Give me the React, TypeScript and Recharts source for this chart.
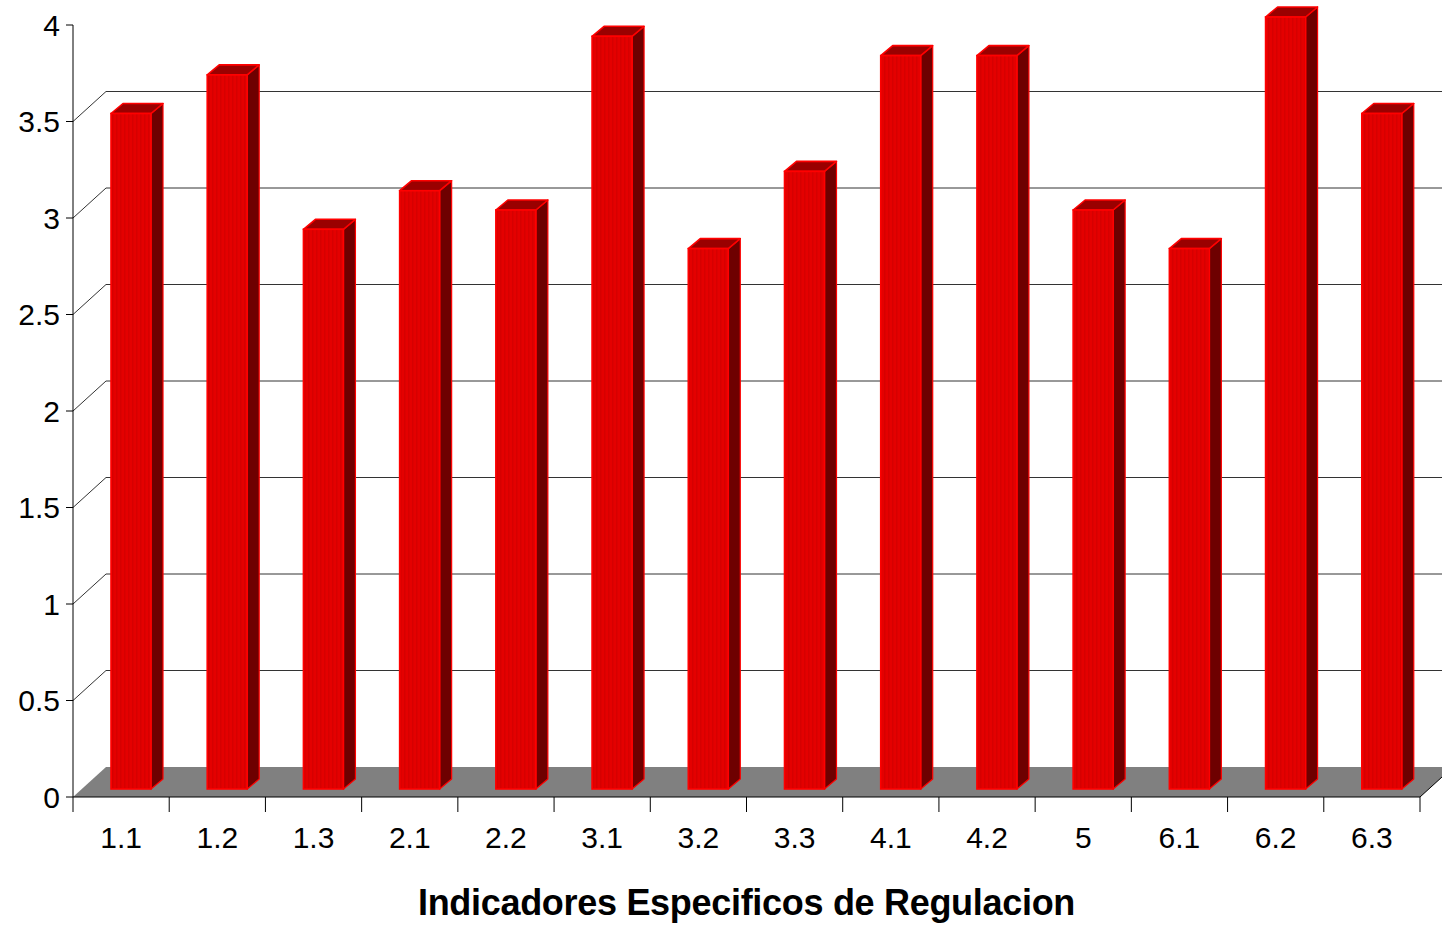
import { BarChart, Bar, XAxis, YAxis, CartesianGrid } from "recharts";

const categories = ["1.1", "1.2", "1.3", "2.1", "2.2", "3.1", "3.2", "3.3", "4.1", "4.2", "5", "6.1", "6.2", "6.3"];
const values = [3.5, 3.7, 2.9, 3.1, 3.0, 3.9, 2.8, 3.2, 3.8, 3.8, 3.0, 2.8, 4.0, 3.5];
const yTicks = [0, 0.5, 1, 1.5, 2, 2.5, 3, 3.5, 4];

const data = categories.map((c, i) => ({ name: c, value: values[i] }));

const W = 1442;
const H = 927;
const LEFT = 73;
const RIGHT = 1420;
const DX = 33; // back-plane offset
const DY = -30;
const BAND = (RIGHT - LEFT) / categories.length;
const FONT = "'Liberation Sans', Arial, sans-serif";

// bar 3d box: shifted into the middle of the floor, small depth
const SHIFT_X = 10;
const SHIFT_Y = -8;
const BX = 12;
const BY = -10;

function Bar3D(props: any) {
  const { x, y, width, height } = props;
  if (height == null || width == null) return null;
  const fx = x + SHIFT_X;
  const fy = y + SHIFT_Y;
  const fb = fy + height;
  const top = `${fx},${fy} ${fx + BX},${fy + BY} ${fx + width + BX},${fy + BY} ${fx + width},${fy}`;
  const side = `${fx + width},${fy} ${fx + width + BX},${fy + BY} ${fx + width + BX},${fb + BY} ${fx + width},${fb}`;
  return (
    <g>
      <polygon points={side} fill="#6e0000" stroke="#ff0000" strokeWidth={1.2} strokeLinejoin="round" />
      <polygon points={top} fill="#9a0000" stroke="#ff0000" strokeWidth={1.6} strokeLinejoin="round" />
      <rect x={fx} y={fy} width={width} height={height} fill="url(#stripes)" stroke="#ff0000" strokeWidth={1.6} />
    </g>
  );
}

function GridLine(props: any) {
  const { y1, index } = props;
  const y = y1;
  if (Math.abs(y - 797) < 1) {
    // floor
    const pts = `${LEFT},${y} ${LEFT + DX},${y + DY} ${RIGHT + DX},${y + DY} ${RIGHT},${y}`;
    return (
      <g key={`g${index}`}>
        <polygon points={pts} fill="#808080" />
        <line x1={RIGHT} y1={y} x2={RIGHT + DX} y2={y + DY} stroke="#000" strokeWidth={1} />
      </g>
    );
  }
  if (y + DY < 0) return <g key={`g${index}`} />;
  return (
    <g key={`g${index}`}>
      <line x1={LEFT} y1={y} x2={LEFT + DX} y2={y + DY} stroke="#333" strokeWidth={1} />
      <line x1={LEFT + DX} y1={y + DY} x2={W} y2={y + DY} stroke="#333" strokeWidth={1} />
    </g>
  );
}

function XTick(props: any) {
  const { x, payload, index } = props;
  const base = 797;
  const last = index === categories.length - 1;
  return (
    <g>
      <line x1={x - BAND / 2} y1={base} x2={x - BAND / 2} y2={base + 15} stroke="#000" />
      {last && <line x1={x + BAND / 2} y1={base} x2={x + BAND / 2} y2={base + 15} stroke="#000" />}
      <text x={x} y={848} textAnchor="middle" fontSize={30} fontFamily={FONT} fill="#000">
        {payload.value}
      </text>
    </g>
  );
}

export default function App() {
  return (
    <div style={{ position: "absolute", left: 0, top: 0, width: W, height: H, background: "#fff" }}>
      <BarChart
        width={W}
        height={H}
        data={data}
        margin={{ top: 25, right: W - RIGHT, bottom: 0, left: 0 }}
        barCategoryGap={0}
      >
        <defs>
          <pattern id="stripes" width="4" height="10" patternUnits="userSpaceOnUse">
            <rect width="4" height="10" fill="#e40000" />
            <rect width="1.5" height="10" fill="#d60000" />
          </pattern>
        </defs>
        <CartesianGrid vertical={false} horizontal={GridLine as any} />
        <YAxis
          width={LEFT}
          domain={[0, 4]}
          ticks={yTicks}
          interval={0}
          tickSize={7}
          tickMargin={6}
          axisLine={{ stroke: "#000" }}
          tickLine={{ stroke: "#000" }}
          tick={{ fontSize: 30, fontFamily: FONT, fill: "#000" }}
        />
        <XAxis
          dataKey="name"
          height={H - 797}
          interval={0}
          tickLine={false}
          axisLine={{ stroke: "#000" }}
          tick={XTick}
          label={{
            value: "Indicadores Especificos de Regulacion",
            position: "insideBottom",
            offset: 12,
            fontSize: 36,
            fontWeight: "bold",
            fontFamily: FONT,
            fill: "#000",
            letterSpacing: -0.3,
          }}
        />
        <Bar dataKey="value" barSize={40} shape={Bar3D} isAnimationActive={false} />
      </BarChart>
    </div>
  );
}
